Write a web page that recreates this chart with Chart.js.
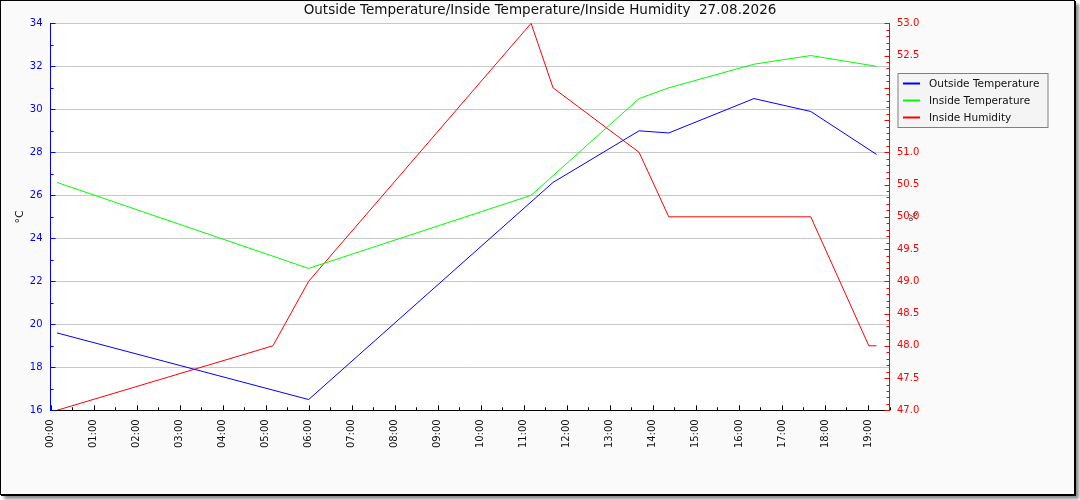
<!DOCTYPE html>
<html>
<head>
<meta charset="utf-8">
<script src="https://cdn.jsdelivr.net/npm/chart.js@4.4.1/dist/chart.umd.min.js"></script>
<style>
  html, body { margin: 0; padding: 0; background: #ffffff; }
  #frame {
    position: absolute; left: 0; top: 0;
    width: 1075px; height: 495px; box-sizing: border-box;
    border: 1px solid #000; background: #fafafa;
    box-shadow: 1px 1px 0 #000, 4px 4px 3px rgba(0,0,0,0.45);
  }
  #c { position: absolute; left: 0; top: 0; }
</style>
</head>
<body>
<div id="frame"></div>
<canvas id="c" width="1080" height="500"></canvas>
<script>
// ---- data (hours since midnight) ----
const chartTitle = 'Outside Temperature/Inside Temperature/Inside Humidity  27.08.2026';
const seriesNames = ['Outside Temperature', 'Inside Temperature', 'Inside Humidity'];
const seriesColors = ['#0000ff', '#00ff00', '#ff0000'];

const outsideTimes = [0.15, 6.0, 11.68, 13.68, 14.37, 16.35, 17.67, 19.2];
const outsideTemp  = [19.6, 16.5, 26.6, 29.0, 28.9, 30.5, 29.9, 27.9];

const insideTimes  = [0.15, 6.0, 11.17, 13.68, 14.37, 16.35, 17.67, 19.2];
const insideTemp   = [26.6, 22.6, 26.0, 30.5, 31.0, 32.1, 32.5, 32.0];

const humTimes     = [0.15, 5.17, 6.0, 11.17, 11.68, 13.68, 14.37, 17.67, 19.02, 19.2];
const insideHum    = [47.0, 48.0, 49.0, 53.0, 52.0, 51.0, 50.0, 50.0, 48.0, 48.0];

const xRange   = [0, 19.5];
const tempRange = [16, 34];
const humRange  = [47, 53];

function pts(xs, ys) { return xs.map((x, i) => ({ x: x, y: ys[i] })); }
function hhmm(v) { return String(v).padStart(2, '0') + ':00'; }

const FONT = 'DejaVu Sans';

const whiteArea = {
  id: 'whiteArea',
  beforeDraw(chart) {
    const { ctx, chartArea: a } = chart;
    ctx.save();
    ctx.fillStyle = '#ffffff';
    ctx.fillRect(a.left, a.top, a.right - a.left, a.bottom - a.top);
    ctx.restore();
  }
};

// inward tick marks (major + minor)
const innerTicks = {
  id: 'innerTicks',
  afterDraw(chart) {
    const { ctx } = chart;
    const sx = chart.scales.x, sy = chart.scales.y, sr = chart.scales.y1;
    ctx.save();
    ctx.lineWidth = 1;
    ctx.strokeStyle = '#000';
    ctx.beginPath();
    for (let i = 0; i <= 39; i++) {
      const v = i * 0.5;
      const px = Math.round(sx.getPixelForValue(v)) + 0.5;
      const len = (i % 2 === 0) ? 5 : 3;
      ctx.moveTo(px, sx.top); ctx.lineTo(px, sx.top - len);
    }
    ctx.stroke();
    ctx.strokeStyle = '#0000ff';
    ctx.beginPath();
    for (let v = tempRange[0]; v <= tempRange[1]; v++) {
      const py = Math.round(sy.getPixelForValue(v)) + 0.5;
      const len = (v % 2 === 0) ? 5 : 3;
      ctx.moveTo(sy.right, py); ctx.lineTo(sy.right + len, py);
    }
    ctx.stroke();
    ctx.strokeStyle = '#ff0000';
    ctx.beginPath();
    for (let i = 0; i <= 60; i++) {
      const v = humRange[0] + i * 0.1;
      const py = Math.round(sr.getPixelForValue(v)) + 0.5;
      const len = (i % 5 === 0) ? 5 : 3;
      ctx.moveTo(sr.left, py); ctx.lineTo(sr.left - len, py);
    }
    ctx.stroke();
    ctx.restore();
  }
};

// legend box drawn on top (covers some right-axis labels like the original)
const boxLegend = {
  id: 'boxLegend',
  afterDraw(chart) {
    const { ctx } = chart;
    const sr = chart.scales.y1;
    const bx = sr.left + 8.5, by = 73.5, bw = 150, bh = 54;
    ctx.save();
    ctx.fillStyle = '#f4f4f4';
    ctx.fillRect(bx, by, bw, bh);
    ctx.strokeStyle = '#808080';
    ctx.lineWidth = 1;
    ctx.strokeRect(bx, by, bw, bh);
    ctx.font = '10.5px "' + FONT + '"';
    ctx.textBaseline = 'middle';
    chart.data.datasets.forEach((ds, i) => {
      const cy = by + 10 + i * 17;
      ctx.strokeStyle = ds.borderColor;
      ctx.lineWidth = 2;
      ctx.beginPath();
      ctx.moveTo(bx + 5, cy); ctx.lineTo(bx + 22, cy);
      ctx.stroke();
      ctx.fillStyle = '#111';
      ctx.fillText(ds.label, bx + 31, cy + 0.5);
    });
    ctx.restore();
  }
};

new Chart(document.getElementById('c'), {
  type: 'line',
  data: {
    datasets: [
      { label: seriesNames[0], data: pts(outsideTimes, outsideTemp), borderColor: seriesColors[0], yAxisID: 'y' },
      { label: seriesNames[1], data: pts(insideTimes, insideTemp), borderColor: seriesColors[1], yAxisID: 'y' },
      { label: seriesNames[2], data: pts(humTimes, insideHum), borderColor: seriesColors[2], yAxisID: 'y1' }
    ]
  },
  options: {
    responsive: false,
    animation: false,
    devicePixelRatio: 1,
    layout: { padding: 0 },
    elements: { point: { radius: 0 }, line: { borderWidth: 1, tension: 0, fill: false } },
    plugins: {
      legend: { display: false },
      tooltip: { enabled: false },
      title: {
        display: true, text: chartTitle, color: '#111',
        font: { family: FONT, size: 13.5, weight: 'normal', lineHeight: 1.15 },
        padding: { top: 3.2, bottom: 4.6 }
      }
    },
    scales: {
      x: {
        type: 'linear', position: 'bottom', min: xRange[0], max: xRange[1],
        grid: { display: true, drawOnChartArea: false, drawTicks: false },
        border: { color: '#000', width: 1 },
        ticks: {
          stepSize: 1, autoSkip: false, includeBounds: false,
          minRotation: 90, maxRotation: 90, padding: 9, color: '#111',
          font: { family: FONT, size: 10 },
          callback: (v) => Number.isInteger(v) ? hhmm(v) : ''
        },
        afterFit(s) { s.height = 89.7; }
      },
      y: {
        position: 'left', min: tempRange[0], max: tempRange[1],
        grid: { color: (c) => (c.tick && c.tick.value === tempRange[0]) ? 'rgba(0,0,0,0)' : '#c8c8c8', drawTicks: false },
        border: { color: '#0000ff', width: 1 },
        ticks: { stepSize: 2, color: '#0000ff', padding: 8, font: { family: FONT, size: 10 } },
        title: { display: true, text: '°C', color: '#111', font: { family: FONT, size: 11 }, padding: { top: 13.4, bottom: 0 } },
        afterFit(s) { s.width = 50.5; }
      },
      y1: {
        position: 'right', min: humRange[0], max: humRange[1],
        grid: { display: true, drawOnChartArea: false, drawTicks: false },
        border: { color: '#ff0000', width: 1 },
        ticks: { stepSize: 0.5, color: '#ff0000', padding: 7.5, font: { family: FONT, size: 10 }, callback: (v) => Number(v).toFixed(1) },
        title: { display: true, text: '%', color: '#333', font: { family: FONT, size: 10 }, padding: { top: 162.5, bottom: 0 } },
        afterFit(s) { s.width = 190.5; }
      }
    }
  },
  plugins: [whiteArea, innerTicks, boxLegend]
});
</script>
</body>
</html>
